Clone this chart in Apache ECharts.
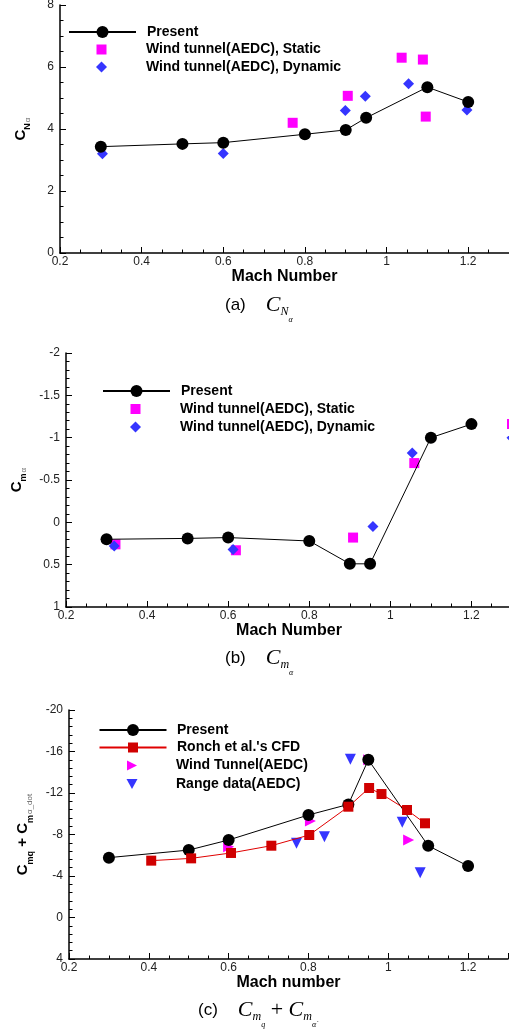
<!DOCTYPE html>
<html>
<head>
<meta charset="utf-8">
<script src="https://cdn.jsdelivr.net/npm/echarts@6/dist/echarts.min.js"></script>
<style>
  html, body { margin: 0; padding: 0; background: #fff; }
  #chart { width: 509px; height: 1030px; }
</style>
</head>
<body>
<div id="chart"></div>
<script>
//--------------------- Data ---------------------------//
// (a) normal force slope
const machA = [0.3, 0.5, 0.6, 0.8, 0.9, 0.95, 1.1, 1.2];
const cnaPresent = [3.43, 3.52, 3.56, 3.83, 3.97, 4.36, 5.35, 4.87];
const machStaticA = [0.77, 0.905, 1.037, 1.089, 1.096];
const cnaStatic = [4.2, 5.07, 6.3, 6.24, 4.4];
const machDynA = [0.304, 0.6, 0.899, 0.948, 1.054, 1.197];
const cnaDynamic = [3.2, 3.21, 4.6, 5.06, 5.46, 4.61];

// (b) pitching moment slope
const machB = [0.3, 0.5, 0.6, 0.8, 0.9, 0.95, 1.1, 1.2];
const cmaPresent = [0.2, 0.19, 0.18, 0.22, 0.49, 0.49, -1.0, -1.16];
const machStaticB = [0.322, 0.619, 0.908, 1.059, 1.3];
const cmaStatic = [0.26, 0.33, 0.18, -0.7, -1.16];
const machDynB = [0.319, 0.612, 0.957, 1.054, 1.099, 1.3];
const cmaDynamic = [0.28, 0.32, 0.05, -0.82, -1.0, -1.0];

// (c) pitch damping sum
const machC = [0.3, 0.5, 0.6, 0.8, 0.9, 0.95, 1.1, 1.2];
const dampPresent = [-5.77, -6.5, -7.47, -9.88, -10.9, -15.2, -6.92, -4.96];
const machRonch = [0.406, 0.506, 0.606, 0.707, 0.802, 0.9, 0.952, 0.983, 1.047, 1.092];
const dampRonch = [-5.48, -5.7, -6.22, -6.92, -7.95, -10.68, -12.48, -11.9, -10.36, -9.08];
const machTunnel = [0.6, 0.805, 0.951, 1.051];
const dampTunnel = [-6.83, -9.3, -15.2, -7.47];
const machRange = [0.77, 0.84, 0.905, 1.035, 1.08];
const dampRange = [-7.15, -7.79, -15.25, -9.18, -4.32];

const xTicks = { min: 0.2, max: 1.3, interval: 0.2 };

//--------------------- Helpers ---------------------------//
const SANS = 'Liberation Sans';
const SERIF = 'Liberation Serif';
const MAGENTA = '#ff00ff';
const BLUE = '#3535ff';
const RED = '#d00000';
const TRI_RIGHT = 'path://M0,0L10,5L0,10Z';
const TRI_DOWN = 'path://M0,0L10,0L5,9Z';

function zip(xs, ys) {
  return xs.map((x, i) => [x, ys[i]]);
}

function xAxisFor(gridIndex, name, gap) {
  return {
    gridIndex, type: 'value', min: xTicks.min, max: xTicks.max, interval: xTicks.interval,
    name, nameLocation: 'middle', nameGap: gap,
    nameTextStyle: { fontFamily: SANS, fontWeight: 'bold', fontSize: 16, color: '#000' },
    axisLine: { onZero: false, lineStyle: { color: '#000', width: 1.5 } },
    axisTick: { inside: true, length: 6, lineStyle: { color: '#000' } },
    minorTick: { show: true, splitNumber: 4, length: 3.5, lineStyle: { color: '#000' } },
    axisLabel: { showMaxLabel: false, margin: 3, fontFamily: SANS, fontSize: 12, color: '#222' },
    splitLine: { show: false }
  };
}

function yAxisFor(gridIndex, opts) {
  return Object.assign({
    gridIndex, type: 'value', nameLocation: 'middle', nameRotate: 90,
    axisLine: { onZero: false, lineStyle: { color: '#000', width: 1.5 } },
    axisTick: { inside: true, length: 6, lineStyle: { color: '#000' } },
    axisLabel: { margin: 6, fontFamily: SANS, fontSize: 12, color: '#222' },
    splitLine: { show: false }
  }, opts);
}

function minor(n) {
  return { show: true, splitNumber: n, length: 3.5, lineStyle: { color: '#000' } };
}

// rich styles for rotated axis names
const nameRich = {
  c: { fontFamily: SANS, fontWeight: 'bold', fontSize: 15, lineHeight: 17, color: '#000', verticalAlign: 'middle' },
  s: { fontFamily: SANS, fontWeight: 'bold', fontSize: 9, lineHeight: 10, padding: [15, 0, 0, 0], color: '#000', verticalAlign: 'middle' },
  g: { fontFamily: SANS, fontSize: 8, lineHeight: 9, padding: [15, 0, 0, 1], color: '#666', verticalAlign: 'middle' }
};

// one legend per row so each marker keeps its own size;
// iconX = centre of the marker, textX = where the label starts
function legendRow(name, iconX, textX, centerY, itemWidth, itemHeight, icon) {
  const left = iconX - itemWidth / 2;
  const item = icon ? { name, icon } : name;
  return {
    data: [item], left, top: centerY - 8, orient: 'vertical', padding: 0,
    itemWidth, itemHeight, selectedMode: false,
    textStyle: {
      fontFamily: SANS, fontWeight: 'bold', fontSize: 14, lineHeight: 16, color: '#000',
      padding: [0, 0, 0, textX - left - itemWidth - 5]
    }
  };
}

// rich styles for the captions under each panel
const capRich = {
  p: { fontFamily: SANS, fontSize: 17, lineHeight: 20, color: '#000', verticalAlign: 'middle' },
  sp: { width: 20, verticalAlign: 'middle' },
  C: { fontFamily: SERIF, fontStyle: 'italic', fontSize: 22, lineHeight: 22, color: '#444', verticalAlign: 'middle' },
  o: { fontFamily: SERIF, fontSize: 22, lineHeight: 22, color: '#444', verticalAlign: 'middle' },
  s: { fontFamily: SERIF, fontStyle: 'italic', fontSize: 12, lineHeight: 12, padding: [14, 0, 0, 0], color: '#444', verticalAlign: 'middle' },
  ss: { fontFamily: SERIF, fontStyle: 'italic', fontSize: 8, lineHeight: 8, padding: [29, 0, 0, 0], color: '#444', verticalAlign: 'middle' }
};

function caption(text, x, y) {
  return { type: 'text', x, y, style: { text, rich: capRich, verticalAlign: 'middle', align: 'left' } };
}

//--------------------- Chart ---------------------------//
const chart = echarts.init(document.getElementById('chart'), null, { renderer: 'canvas' });

const option = {
  animation: false,
  backgroundColor: '#fff',
  grid: [
    { left: 60, top: 5, width: 449, height: 248, outerBoundsMode: 'none' },
    { left: 66, top: 353, width: 446, height: 254, outerBoundsMode: 'none' },
    { left: 69, top: 710, width: 439, height: 249, outerBoundsMode: 'none' }
  ],
  xAxis: [
    xAxisFor(0, 'Mach Number', 11),
    xAxisFor(1, 'Mach Number', 10),
    xAxisFor(2, 'Mach number', 12)
  ],
  yAxis: [
    yAxisFor(0, {
      min: 0, max: 8, interval: 2, minorTick: minor(4),
      name: '{c|C}{s|N}{g|α}', nameGap: 31, nameTextStyle: { rich: nameRich }
    }),
    yAxisFor(1, {
      min: -2, max: 1, interval: 0.5, inverse: true, minorTick: minor(5),
      name: '{c|C}{s|m}{g|α}', nameGap: 36, nameTextStyle: { rich: nameRich }
    }),
    yAxisFor(2, {
      min: -20, max: 4, interval: 4, inverse: true, minorTick: minor(5),
      name: '{c|C}{s|mq}{c| + C}{s|m}{g|α_dot}', nameGap: 36, nameTextStyle: { rich: nameRich }
    })
  ],
  legend: [
    legendRow('Present', 101.5, 146, 32, 67, 15),
    legendRow('Wind tunnel(AEDC), Static', 101.5, 146, 49.5, 10, 10),
    legendRow('Wind tunnel(AEDC), Dynamic', 101.5, 146, 67, 11, 11),
    legendRow('Present', 135.5, 180, 391, 67, 15),
    legendRow('Wind tunnel(AEDC), Static', 135.5, 180, 409, 10, 10),
    legendRow('Wind tunnel(AEDC), Dynamic', 135.5, 180, 427, 11, 11),
    legendRow('Present', 132, 176, 730, 67, 15),
    legendRow("Ronch et al.'s CFD", 132, 176, 747.5, 67, 12.5),
    legendRow('Wind Tunnel(AEDC)', 132, 176, 765.5, 10, 10, TRI_RIGHT),
    legendRow('Range data(AEDC)', 132, 176, 784, 11, 10, TRI_DOWN)
  ],
  series: [
    // (a)
    { name: 'Present', type: 'line', xAxisIndex: 0, yAxisIndex: 0, data: zip(machA, cnaPresent),
      symbol: 'circle', symbolSize: 12, itemStyle: { color: '#000' }, lineStyle: { color: '#000', width: 1 } },
    { name: 'Wind tunnel(AEDC), Static', type: 'scatter', xAxisIndex: 0, yAxisIndex: 0, data: zip(machStaticA, cnaStatic),
      symbol: 'rect', symbolSize: 10, itemStyle: { color: MAGENTA, opacity: 1 } },
    { name: 'Wind tunnel(AEDC), Dynamic', type: 'scatter', xAxisIndex: 0, yAxisIndex: 0, data: zip(machDynA, cnaDynamic),
      symbol: 'diamond', symbolSize: 11, itemStyle: { color: BLUE, opacity: 1 } },
    // (b)
    { name: 'Present', type: 'line', xAxisIndex: 1, yAxisIndex: 1, data: zip(machB, cmaPresent),
      symbol: 'circle', symbolSize: 12, itemStyle: { color: '#000' }, lineStyle: { color: '#000', width: 1 } },
    { name: 'Wind tunnel(AEDC), Static', type: 'scatter', xAxisIndex: 1, yAxisIndex: 1, data: zip(machStaticB, cmaStatic),
      symbol: 'rect', symbolSize: 10, clip: false, itemStyle: { color: MAGENTA, opacity: 1 } },
    { name: 'Wind tunnel(AEDC), Dynamic', type: 'scatter', xAxisIndex: 1, yAxisIndex: 1, data: zip(machDynB, cmaDynamic),
      symbol: 'diamond', symbolSize: 11, clip: false, itemStyle: { color: BLUE, opacity: 1 } },
    // (c)
    { name: 'Present', type: 'line', xAxisIndex: 2, yAxisIndex: 2, data: zip(machC, dampPresent),
      symbol: 'circle', symbolSize: 12, itemStyle: { color: '#000' }, lineStyle: { color: '#000', width: 1 } },
    { name: "Ronch et al.'s CFD", type: 'line', xAxisIndex: 2, yAxisIndex: 2, data: zip(machRonch, dampRonch),
      symbol: 'rect', symbolSize: 10, itemStyle: { color: RED }, lineStyle: { color: '#e00000', width: 1 } },
    { name: 'Wind Tunnel(AEDC)', type: 'scatter', xAxisIndex: 2, yAxisIndex: 2, data: zip(machTunnel, dampTunnel),
      symbol: 'triangle', symbolSize: 11, symbolRotate: -90, itemStyle: { color: MAGENTA, opacity: 1 } },
    { name: 'Range data(AEDC)', type: 'scatter', xAxisIndex: 2, yAxisIndex: 2, data: zip(machRange, dampRange),
      symbol: 'triangle', symbolSize: 11, symbolRotate: 180, itemStyle: { color: BLUE, opacity: 1 } }
  ],
  graphic: [
    caption('{p|(a)}{sp| }{C|C}{s|N}{ss|α}', 225, 305),
    caption('{p|(b)}{sp| }{C|C}{s|m}{ss|α}', 225, 658),
    caption('{p|(c)}{sp| }{C|C}{s|m}{ss|q}{o| + }{C|C}{s|m}{ss|α̇}', 198, 1010)
  ]
};

chart.setOption(option);
</script>
</body>
</html>
